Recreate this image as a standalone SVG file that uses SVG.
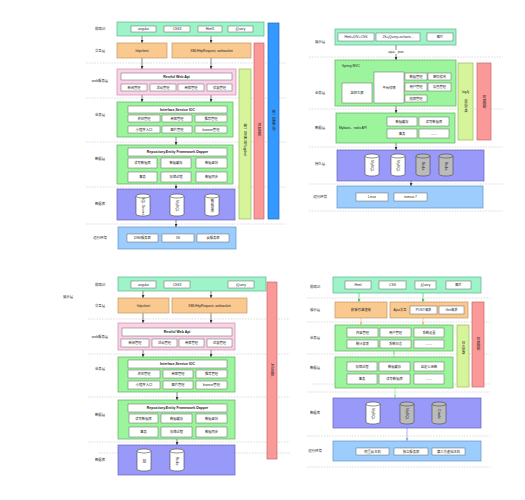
<svg xmlns="http://www.w3.org/2000/svg" width="525" height="500" viewBox="0 0 525 500">
<style>
text{font-family:"Liberation Sans","Noto Sans CJK SC",sans-serif;fill:#222;text-anchor:middle;dominant-baseline:central}
.lb{font-size:3.4px}
.t{font-size:3.3px}
.tb{font-size:3.5px;font-weight:bold}
.l{text-anchor:start}
.v{writing-mode:vertical-rl;font-size:3.4px}
.it{fill:#fff;stroke:#666;stroke-width:0.5}
.d{stroke:#c8c8c8;stroke-width:0.6;stroke-dasharray:1.6 1.2}
.mint{fill:#9ef3c8;stroke:#5bb58c;stroke-width:0.7}
.org{fill:#f9c98f;stroke:#c49460;stroke-width:0.7}
.pink{fill:#fbd2e8;stroke:#c98eab;stroke-width:0.7}
.grn{fill:#9cf59c;stroke:#5fae5f;stroke-width:0.7}
.pur{fill:#9999fa;stroke:#6464b4;stroke-width:0.7}
.blu{fill:#9ccdfd;stroke:#5f93c8;stroke-width:0.7}
.lime{fill:#d6f59b;stroke:#9ab85a;stroke-width:0.7}
.red{fill:#fb9999;stroke:#c46868;stroke-width:0.7}
.bl2{fill:#3399ff;stroke:#2266bb;stroke-width:0.7}
.a{stroke:#333;stroke-width:0.6;fill:none;marker-end:url(#ma)}
.ag{stroke:#33cc66;stroke-width:0.7;fill:none;marker-end:url(#mg)}
.ao{stroke:#f7b880;stroke-width:0.7;fill:none;marker-end:url(#mo)}
.alg{stroke:#99ee99;stroke-width:0.8;fill:none;marker-end:url(#mlg)}
.ap{stroke:#9f9ff0;stroke-width:0.8;fill:none;marker-end:url(#mp)}
</style>
<defs>
<marker id="ma" markerUnits="userSpaceOnUse" markerWidth="3" markerHeight="3" refX="3" refY="1.5" orient="auto"><path d="M0,0L3,1.5L0,3z" fill="#333"/></marker>
<marker id="mg" markerUnits="userSpaceOnUse" markerWidth="3" markerHeight="3" refX="3" refY="1.5" orient="auto"><path d="M0,0L3,1.5L0,3z" fill="#33cc66"/></marker>
<marker id="mo" markerUnits="userSpaceOnUse" markerWidth="3" markerHeight="3" refX="3" refY="1.5" orient="auto"><path d="M0,0L3,1.5L0,3z" fill="#f7b880"/></marker>
<marker id="mlg" markerUnits="userSpaceOnUse" markerWidth="3" markerHeight="3" refX="3" refY="1.5" orient="auto"><path d="M0,0L3,1.5L0,3z" fill="#99ee99"/></marker>
<marker id="mp" markerUnits="userSpaceOnUse" markerWidth="3" markerHeight="3" refX="3" refY="1.5" orient="auto"><path d="M0,0L3,1.5L0,3z" fill="#9f9ff0"/></marker>
<g id="cyl"><path d="M0,2V20A7,2 0 0 0 14,20V2" stroke="#444" stroke-width="0.6"/><ellipse cx="7" cy="2" rx="7" ry="2" stroke="#444" stroke-width="0.6"/></g>
</defs>
<rect width="525" height="500" fill="#fff"/>

<!-- ================= TOP LEFT ================= -->
<g id="tl-grid">
<line class="d" x1="86" y1="63" x2="286" y2="63"/>
<line class="d" x1="86" y1="98" x2="286" y2="98"/>
<line class="d" x1="86" y1="142" x2="286" y2="142"/>
<line class="d" x1="86" y1="187" x2="286" y2="187"/>
<line class="d" x1="86" y1="224" x2="286" y2="224"/>
<text class="lb" x="100" y="29">前端UI</text>
<text class="lb" x="100" y="51">交互层</text>
<text class="lb" x="100" y="81">web服务层</text>
<text class="lb" x="100" y="115">业务层</text>
<text class="lb" x="100" y="159">数据层</text>
<text class="lb" x="100" y="204">数据库</text>
<text class="lb" x="100" y="238">运行环境</text>
</g>
<g id="tl-connectors">
<line class="a" x1="142" y1="36" x2="142" y2="43"/>
<line class="a" x1="211" y1="36" x2="211" y2="43"/>
<line class="a" x1="142" y1="58" x2="142" y2="69"/>
<line class="a" x1="211" y1="58" x2="211" y2="69"/>
<line class="a" x1="142" y1="95" x2="142" y2="102"/>
<line class="a" x1="211" y1="95" x2="211" y2="102"/>
<line class="a" x1="176" y1="137" x2="176" y2="145"/>
<line class="a" x1="176" y1="184" x2="176" y2="189"/>
<line class="a" x1="176" y1="220" x2="176" y2="227"/>
</g>
<g id="tl-ui">
<rect class="mint" x="117" y="22" width="147" height="14"/>
<rect class="it" x="131" y="26" width="25" height="6"/><text class="t" x="143.5" y="29">angular</text>
<rect class="it" x="164" y="26" width="26" height="6"/><text class="t" x="177" y="29">CSS3</text>
<rect class="it" x="198" y="26" width="24" height="6"/><text class="t" x="210" y="29">Html5</text>
<rect class="it" x="228" y="26" width="25" height="6"/><text class="t" x="240.5" y="29">jQuery</text>
</g>
<g id="tl-interact">
<rect class="org" x="117" y="43" width="50" height="15"/><text class="t" x="142" y="50.5">httpclient</text>
<rect class="org" x="172" y="43" width="79" height="15"/><text class="t" x="211.5" y="50.5">XMLHttpRequest, websocket</text>
</g>
<g id="tl-web">
<rect class="pink" x="117" y="69" width="119" height="26"/>
<rect class="it" x="121" y="73" width="111" height="7"/><text class="tb" x="176.5" y="76.5">Restful Web Api</text>
<rect class="it" x="121" y="84" width="26" height="7"/><text class="t" x="134" y="87.5">新闻管理</text>
<rect class="it" x="150" y="84" width="26" height="7"/><text class="t" x="163" y="87.5">活动管理</text>
<rect class="it" x="178" y="84" width="26" height="7"/><text class="t" x="191" y="87.5">商家管理</text>
<rect class="it" x="207" y="84" width="25" height="7"/><text class="t" x="219.5" y="87.5">优惠管理</text>
</g>
<g id="tl-biz">
<rect class="grn" x="117" y="102" width="116" height="35"/>
<rect class="it" x="128" y="106" width="99" height="7"/><text class="tb" x="177.5" y="109.5">Interface,Service IOC</text>
<rect class="it" x="128" y="115" width="32" height="7"/><text class="t" x="144" y="118.5">资讯管理</text>
<rect class="it" x="162" y="115" width="30" height="7"/><text class="t" x="177" y="118.5">商家管理</text>
<rect class="it" x="195" y="115" width="32" height="7"/><text class="t" x="211" y="118.5">推荐管理</text>
<rect class="it" x="128" y="126" width="32" height="7"/><text class="t" x="144" y="129.5">小程序入口</text>
<rect class="it" x="162" y="126" width="30" height="7"/><text class="t" x="177" y="129.5">图片管理</text>
<rect class="it" x="195" y="126" width="32" height="7"/><text class="t" x="211" y="129.5">banner管理</text>
</g>
<g id="tl-data">
<rect class="grn" x="117" y="145" width="116" height="39"/>
<rect class="it" x="128" y="148" width="99" height="8"/><text class="tb" x="177.5" y="152">Repository,Entity Framework Dapper</text>
<rect class="it" x="128" y="158" width="29" height="10"/><text class="t" x="142.5" y="163">读写数据库</text>
<rect class="it" x="161" y="158" width="30" height="10"/><text class="t" x="176" y="163">数据缓存</text>
<rect class="it" x="196" y="158" width="31" height="10"/><text class="t" x="211.5" y="163">数据备份</text>
<rect class="it" x="128" y="172" width="29" height="10"/><text class="t" x="142.5" y="177">事务</text>
<rect class="it" x="161" y="172" width="30" height="10"/><text class="t" x="176" y="177">存储过程</text>
<rect class="it" x="196" y="172" width="31" height="10"/><text class="t" x="211.5" y="177">数据同步</text>
</g>
<g id="tl-db">
<rect class="pur" x="117" y="189" width="118" height="31"/>
<use href="#cyl" x="136" y="194" fill="#fff"/><text class="v" x="143" y="206">SQL Server</text>
<use href="#cyl" x="170" y="194" fill="#fff"/><text class="v" x="177" y="206">MySQL</text>
<use href="#cyl" x="205" y="194" fill="#fff"/><text class="v" x="212" y="206">数据仓库</text>
</g>
<g id="tl-env">
<rect class="blu" x="118" y="227" width="118" height="22"/>
<rect class="it" x="127" y="234" width="31" height="8"/><text class="t" x="142.5" y="238">DNS服务器</text>
<rect class="it" x="162" y="234" width="32" height="8"/><text class="t" x="178" y="238">IIS</text>
<rect class="it" x="197" y="234" width="32" height="8"/><text class="t" x="213" y="238">云服务器</text>
</g>
<g id="tl-log">
<rect class="lime" x="239" y="69" width="12" height="150"/>
<text class="v" x="245" y="140">统一日志管理 log4net</text>
</g>
<g id="tl-mon">
<rect class="red" x="254" y="43" width="10" height="176"/>
<text class="v" x="259" y="130">进程监控</text>
</g>
<g id="tl-auth">
<rect class="bl2" x="268" y="23" width="11" height="196"/>
<text class="v" x="273.5" y="120">统一权限管理</text>
</g>

<!-- ================= TOP RIGHT ================= -->
<g id="tr-grid">
<line class="d" x1="309" y1="57" x2="503" y2="57"/>
<line class="d" x1="309" y1="109" x2="503" y2="109"/>
<line class="d" x1="309" y1="147" x2="503" y2="147"/>
<line class="d" x1="309" y1="184" x2="503" y2="184"/>
<line class="d" x1="309" y1="211" x2="503" y2="211"/>
<text class="lb" x="320" y="42">展示层</text>
<text class="lb" x="320" y="93">业务层</text>
<text class="lb" x="320" y="128">数据层</text>
<text class="lb" x="320" y="164">持久层</text>
<text class="lb" x="320" y="197">运行环境</text>
</g>
<g id="tr-connectors">
<line class="a" x1="396" y1="45" x2="396" y2="60"/>
<rect x="386" y="50" width="20" height="4" fill="#fff"/>
<text class="t" x="396" y="52">ajax、json</text>
<line class="a" x1="396" y1="106" x2="396" y2="113"/>
<line class="a" x1="396" y1="143" x2="396" y2="150"/>
<line class="a" x1="411" y1="181" x2="411" y2="186"/>
</g>
<g id="tr-show">
<rect class="mint" x="335" y="29" width="121" height="16"/>
<rect class="it" x="338" y="33" width="36" height="8"/><text class="t" x="356" y="37">Html+DIV+CSS</text>
<rect class="it" x="376" y="33" width="44" height="8"/><text class="t" x="398" y="37">JS+jQuery+echarts...</text>
<rect class="it" x="427" y="33" width="26" height="8"/><text class="t" x="440" y="37">图片</text>
</g>
<g id="tr-biz">
<rect class="grn" x="335" y="60" width="121" height="46"/>
<text class="t l" x="342" y="66">Spring MVC</text>
<rect class="it" x="342" y="83" width="30" height="20"/><text class="t" x="357" y="93">监控大屏</text>
<rect class="it" x="374" y="72" width="30" height="31"/><text class="t" x="389" y="87.5">平台详情</text>
<rect class="it" x="405" y="73" width="22" height="7"/><text class="t" x="416" y="76.5">数据管理</text>
<rect class="it" x="428" y="73" width="23" height="7"/><text class="t" x="439.5" y="76.5">密码修改</text>
<rect class="it" x="405" y="83" width="22" height="8"/><text class="t" x="416" y="87">用户管理</text>
<rect class="it" x="428" y="83" width="23" height="8"/><text class="t" x="439.5" y="87">角色管理</text>
<rect class="it" x="405" y="95" width="22" height="7"/><text class="t" x="416" y="98.5">权限管理</text>
</g>
<g id="tr-data">
<rect class="grn" x="336" y="113" width="119" height="30"/>
<text class="t l" x="339" y="128">Mybatis、redis API</text>
<rect class="it" x="387" y="117" width="30" height="9"/><text class="t" x="402" y="121.5">数据缓存</text>
<rect class="it" x="419" y="117" width="30" height="9"/><text class="t" x="434" y="121.5">读写数据库</text>
<rect class="it" x="387" y="129" width="30" height="9"/><text class="t" x="402" y="133.5">事务</text>
<rect class="it" x="419" y="129" width="30" height="9"/><text class="t" x="434" y="133.5">……</text>
</g>
<g id="tr-persist">
<rect class="pur" x="337" y="150" width="147" height="31"/>
<use href="#cyl" x="365" y="154" fill="#fff"/><text class="v" x="372" y="166">MySQL</text>
<use href="#cyl" x="391" y="154" fill="#fff"/><text class="v" x="398" y="166">MySQL</text>
<use href="#cyl" x="416" y="154" fill="#bbb"/><text class="v" x="423" y="166">Redis</text>
<use href="#cyl" x="439" y="154" fill="#bbb"/><text class="v" x="446" y="166">Redis</text>
</g>
<g id="tr-env">
<rect class="blu" x="337" y="186" width="146" height="22"/>
<rect class="it" x="356" y="193" width="32" height="8"/><text class="t" x="372" y="197">Linux</text>
<rect class="it" x="394" y="193" width="33" height="8"/><text class="t" x="410.5" y="197">tomcat 7</text>
</g>
<g id="tr-log">
<rect class="lime" x="458" y="63" width="15" height="77"/>
<text class="t" x="465.5" y="92">log4j</text>
<text class="v" x="465.5" y="105.5">日志记录</text>
</g>
<g id="tr-auth">
<rect class="red" x="477" y="63" width="14" height="77"/>
<text class="v" x="484" y="102">权限控制</text>
</g>

<!-- ================= BOTTOM LEFT ================= -->
<g id="bl-grid">
<line class="d" x1="88" y1="319" x2="290" y2="319"/>
<line class="d" x1="88" y1="354" x2="290" y2="354"/>
<line class="d" x1="88" y1="397" x2="290" y2="397"/>
<line class="d" x1="88" y1="442" x2="290" y2="442"/>
<line class="d" x1="98" y1="453" x2="290" y2="453"/>
<text class="lb" x="68" y="297">展示层</text>
<text class="lb" x="100" y="285">前端UI</text>
<text class="lb" x="100" y="306">交互层</text>
<text class="lb" x="100" y="337">web服务层</text>
<text class="lb" x="100" y="369">业务层</text>
<text class="lb" x="100" y="415">数据层</text>
<text class="lb" x="100" y="460">数据库</text>
</g>
<g id="bl-connectors">
<line class="a" x1="143" y1="291" x2="143" y2="298"/>
<line class="a" x1="211" y1="291" x2="211" y2="298"/>
<line class="a" x1="143" y1="313" x2="143" y2="323"/>
<line class="a" x1="211" y1="313" x2="211" y2="323"/>
<line class="a" x1="143" y1="350" x2="143" y2="357"/>
<line class="a" x1="211" y1="350" x2="211" y2="357"/>
<line class="a" x1="177" y1="392" x2="177" y2="400"/>
<line class="a" x1="177" y1="439" x2="177" y2="445"/>
</g>
<g id="bl-ui">
<rect class="mint" x="118" y="277" width="148" height="14"/>
<rect class="it" x="131" y="281" width="25" height="7"/><text class="t" x="143.5" y="284.5">angular</text>
<rect class="it" x="164" y="281" width="26" height="7"/><text class="t" x="177" y="284.5">CSS3</text>
<rect class="it" x="228" y="281" width="26" height="7"/><text class="t" x="241" y="284.5">jQuery</text>
</g>
<g id="bl-interact">
<rect class="org" x="118" y="298" width="51" height="15"/><text class="t" x="143.5" y="305.5">httpclient</text>
<rect class="org" x="172" y="298" width="75" height="15"/><text class="t" x="209.5" y="305.5">XMLHttpRequest, websocket</text>
</g>
<g id="bl-web">
<rect class="pink" x="118" y="323" width="117" height="27"/>
<rect class="it" x="122" y="328" width="110" height="8"/><text class="tb" x="177" y="332">Restful Web Api</text>
<rect class="it" x="121" y="339" width="28" height="8"/><text class="t" x="135" y="343">新闻管理</text>
<rect class="it" x="152" y="339" width="25" height="8"/><text class="t" x="164.5" y="343">活动管理</text>
<rect class="it" x="179" y="339" width="25" height="8"/><text class="t" x="191.5" y="343">商家管理</text>
<rect class="it" x="207" y="339" width="25" height="8"/><text class="t" x="219.5" y="343">优惠管理</text>
</g>
<g id="bl-biz">
<rect class="grn" x="118" y="357" width="117" height="35"/>
<rect class="it" x="128" y="360" width="99" height="8"/><text class="tb" x="177.5" y="364">Interface,Service IOC</text>
<rect class="it" x="128" y="370" width="32" height="8"/><text class="t" x="144" y="374">资讯管理</text>
<rect class="it" x="163" y="370" width="30" height="8"/><text class="t" x="178" y="374">商家管理</text>
<rect class="it" x="196" y="370" width="31" height="8"/><text class="t" x="211.5" y="374">推荐管理</text>
<rect class="it" x="128" y="381" width="32" height="8"/><text class="t" x="144" y="385">小程序入口</text>
<rect class="it" x="163" y="381" width="30" height="8"/><text class="t" x="178" y="385">图片管理</text>
<rect class="it" x="196" y="381" width="31" height="8"/><text class="t" x="211.5" y="385">banner管理</text>
</g>
<g id="bl-data">
<rect class="grn" x="118" y="400" width="117" height="39"/>
<rect class="it" x="128" y="404" width="99" height="8"/><text class="tb" x="177.5" y="408">Repository,Entity Framework Dapper</text>
<rect class="it" x="129" y="414" width="29" height="9"/><text class="t" x="143.5" y="418.5">读写数据库</text>
<rect class="it" x="161" y="414" width="31" height="9"/><text class="t" x="176.5" y="418.5">数据缓存</text>
<rect class="it" x="196" y="414" width="31" height="9"/><text class="t" x="211.5" y="418.5">数据备份</text>
<rect class="it" x="129" y="427" width="29" height="10"/><text class="t" x="143.5" y="432">事务</text>
<rect class="it" x="161" y="427" width="31" height="10"/><text class="t" x="176.5" y="432">存储过程</text>
<rect class="it" x="196" y="427" width="31" height="10"/><text class="t" x="211.5" y="432">数据同步</text>
</g>
<g id="bl-db">
<rect class="pur" x="118" y="445" width="117" height="30"/>
<use href="#cyl" x="137" y="449" fill="#fff"/><text class="v" x="144" y="461">DB</text>
<use href="#cyl" x="170" y="449" fill="#fff"/><text class="v" x="177" y="461">Redis</text>
</g>
<g id="bl-jvm">
<rect class="red" x="267" y="282" width="10" height="177"/>
<text class="v" x="272" y="370">JVM监控</text>
</g>

<!-- ================= BOTTOM RIGHT ================= -->
<g id="br-grid">
<line class="d" x1="307" y1="298" x2="490" y2="298"/>
<line class="d" x1="307" y1="322" x2="490" y2="322"/>
<line class="d" x1="307" y1="354" x2="490" y2="354"/>
<line class="d" x1="312" y1="384" x2="490" y2="384"/>
<line class="d" x1="307" y1="392" x2="490" y2="392"/>
<line class="d" x1="307" y1="436" x2="490" y2="436"/>
<line class="d" x1="307" y1="467" x2="490" y2="467"/>
<text class="lb" x="315" y="287">前端UI</text>
<text class="lb" x="315" y="310">展示层</text>
<text class="lb" x="315" y="338">业务层</text>
<text class="lb" x="315" y="368">数据层</text>
<text class="lb" x="315" y="413">数据库</text>
<text class="lb" x="315" y="451">运行环境</text>
</g>
<g id="br-connectors">
<line class="ag" x1="359" y1="293" x2="359" y2="302"/>
<line class="ag" x1="423" y1="293" x2="423" y2="302"/>
<line class="ao" x1="361" y1="318" x2="361" y2="325"/>
<line class="ao" x1="423" y1="318" x2="423" y2="325"/>
<line class="alg" x1="394" y1="357" x2="394" y2="351"/>
<line class="alg" x1="395" y1="388" x2="395" y2="398"/>
<line class="ap" x1="407" y1="428" x2="407" y2="441"/>
</g>
<g id="br-ui">
<rect class="mint" x="333" y="277" width="148" height="16"/>
<rect class="it" x="345" y="281" width="26" height="8"/><text class="t" x="358" y="285">Html</text>
<rect class="it" x="379" y="281" width="27" height="8"/><text class="t" x="392.5" y="285">CSS</text>
<rect class="it" x="415" y="281" width="21" height="8"/><text class="t" x="425.5" y="285">jQuery</text>
<rect class="it" x="446" y="281" width="25" height="8"/><text class="t" x="458.5" y="285">图片</text>
</g>
<g id="br-show">
<rect class="org" x="335" y="302" width="52" height="16"/><text class="t" x="361" y="310">模板引擎渲染</text>
<rect class="org" x="390" y="302" width="78" height="16"/><text class="t" x="400" y="310">Ajax交互</text>
<rect class="it" x="410" y="306" width="27" height="8"/><text class="t" x="423.5" y="310">POST请求</text>
<rect class="it" x="439" y="306" width="25" height="8"/><text class="t" x="451.5" y="310">Get请求</text>
</g>
<g id="br-biz">
<rect class="grn" x="335" y="325" width="118" height="26"/>
<rect class="it" x="347" y="328" width="31" height="9"/><text class="t" x="362.5" y="332.5">内容管理</text>
<rect class="it" x="380" y="328" width="31" height="9"/><text class="t" x="395.5" y="332.5">用户管理</text>
<rect class="it" x="414" y="328" width="30" height="9"/><text class="t" x="429" y="332.5">系统设置</text>
<rect class="it" x="347" y="340" width="31" height="8"/><text class="t" x="362.5" y="344">统计报表</text>
<rect class="it" x="380" y="340" width="31" height="8"/><text class="t" x="395.5" y="344">系统日志</text>
<rect class="it" x="414" y="340" width="30" height="8"/><text class="t" x="429" y="344">……</text>
</g>
<g id="br-data">
<rect class="grn" x="335" y="357" width="118" height="31"/>
<rect class="it" x="347" y="362" width="30" height="9"/><text class="t" x="362" y="366.5">存储过程</text>
<rect class="it" x="379" y="362" width="31" height="9"/><text class="t" x="394.5" y="366.5">数据缓存</text>
<rect class="it" x="414" y="362" width="30" height="9"/><text class="t" x="429" y="366.5">自定义函数</text>
<rect class="it" x="347" y="374" width="30" height="10"/><text class="t" x="362" y="379">事务</text>
<rect class="it" x="379" y="374" width="31" height="10"/><text class="t" x="394.5" y="379">读写数据库</text>
<rect class="it" x="414" y="374" width="30" height="10"/><text class="t" x="429" y="379">……</text>
</g>
<g id="br-db">
<rect class="pur" x="333" y="398" width="148" height="30"/>
<use href="#cyl" x="366" y="402" fill="#fff"/><text class="v" x="373" y="414">MySQL</text>
<use href="#cyl" x="400" y="402" fill="#bbb"/><text class="v" x="407" y="414">MySQL</text>
<use href="#cyl" x="432" y="402" fill="#bbb"/><text class="v" x="439" y="414">Oracle</text>
</g>
<g id="br-env">
<rect class="blu" x="333" y="441" width="148" height="20"/>
<rect class="it" x="356" y="448" width="33" height="7"/><text class="t" x="372.5" y="451.5">阿里云主机</text>
<rect class="it" x="394" y="448" width="34" height="7"/><text class="t" x="411" y="451.5">独立服务器</text>
<rect class="it" x="432" y="448" width="33" height="7"/><text class="t" x="448.5" y="451.5">第三方虚拟主机</text>
</g>
<g id="br-log">
<rect class="lime" x="457" y="325" width="12" height="62"/>
<text class="v" x="463" y="348">日志记录</text>
</g>
<g id="br-auth">
<rect class="red" x="472" y="302" width="12" height="85"/>
<text class="v" x="478" y="344">权限控制</text>
</g>
</svg>
